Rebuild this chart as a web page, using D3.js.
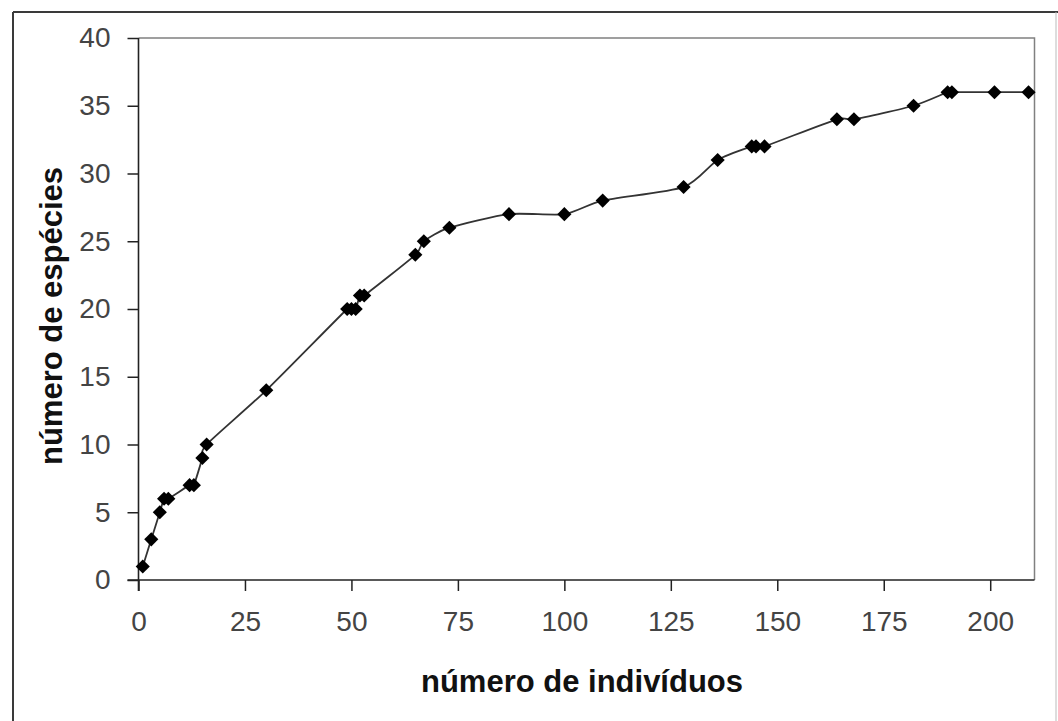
<!DOCTYPE html>
<html>
<head>
<meta charset="utf-8">
<script src="https://cdn.jsdelivr.net/npm/d3@7"></script>
<style>
  body { margin: 0; background: #fff; }
  text { font-family: "Liberation Sans", Arial, sans-serif; }
</style>
</head>
<body>
<div id="chart"></div>
<script>
// dados
var individuos = [1, 3, 5, 6, 7, 12, 13, 15, 16, 30, 49, 50, 51, 52, 53, 65, 67, 73, 87, 100, 109, 128, 136, 144, 145, 147, 164, 168, 182, 190, 191, 201, 209];
var especies   = [1, 3, 5, 6, 6, 7, 7, 9, 10, 14, 20, 20, 20, 21, 21, 24, 25, 26, 27, 27, 28, 29, 31, 32, 32, 32, 34, 34, 35, 36, 36, 36, 36];
var xTicks = [0, 25, 50, 75, 100, 125, 150, 175, 200];
var yTicks = [0, 5, 10, 15, 20, 25, 30, 35, 40];

var W = 1058, H = 721;
var plot = {left: 138.5, right: 1034.5, top: 38, bottom: 580};

var svg = d3.select("#chart")
    .append("svg")
    .attr("width", W)
    .attr("height", H);

svg.append("rect").attr("width", W).attr("height", H).attr("fill", "#fff");

// moldura externa
svg.append("line").attr("x1", 13).attr("x2", W).attr("y1", 12).attr("y2", 12)
    .attr("stroke", "#3a3a3a").attr("stroke-width", 2);
svg.append("line").attr("x1", 13).attr("x2", 13).attr("y1", 12).attr("y2", H)
    .attr("stroke", "#3a3a3a").attr("stroke-width", 2);
svg.append("line").attr("x1", 1056).attr("x2", 1056).attr("y1", 12).attr("y2", H)
    .attr("stroke", "#bbb").attr("stroke-width", 1);

var x = d3.scaleLinear()
    .domain([0, 210.4])
    .range([plot.left, plot.right]);

var y = d3.scaleLinear()
    .domain([0, 40])
    .range([plot.bottom, plot.top]);

// bordas da área de plotagem (topo e direita)
svg.append("path")
    .attr("d", "M" + plot.left + "," + plot.top + "H" + plot.right + "V" + plot.bottom)
    .attr("fill", "none")
    .attr("stroke", "#808080")
    .attr("stroke-width", 1.5);

// eixo X
var gx = svg.append("g")
    .attr("transform", "translate(0," + plot.bottom + ")")
    .call(d3.axisBottom(x).tickValues(xTicks).tickSizeOuter(0).tickSize(11).tickPadding(20));
gx.select(".domain").attr("stroke", "#222").attr("stroke-width", 1.6)
    .attr("d", "M" + (plot.left - 11) + ",0H" + plot.right);
gx.selectAll(".tick line").attr("stroke", "#222").attr("stroke-width", 1.5);
gx.selectAll(".tick text")
    .attr("fill", "#444")
    .style("font-size", "28px");

// eixo Y
var gy = svg.append("g")
    .attr("transform", "translate(" + plot.left + ",0)")
    .call(d3.axisLeft(y).tickValues(yTicks).tickSizeOuter(0).tickSize(11).tickPadding(17));
gy.select(".domain").attr("stroke", "#222").attr("stroke-width", 1.6)
    .attr("d", "M0," + (plot.bottom + 11) + "V" + plot.top);
gy.selectAll(".tick line").attr("stroke", "#222").attr("stroke-width", 1.5);
gy.selectAll(".tick text")
    .attr("fill", "#444")
    .style("font-size", "28px");

// títulos dos eixos
svg.append("text")
    .attr("x", 582)
    .attr("y", 692)
    .attr("text-anchor", "middle")
    .style("font-size", "31px")
    .style("font-weight", "bold")
    .attr("fill", "#111")
    .text("número de indivíduos");

svg.append("text")
    .attr("transform", "translate(62,316)rotate(-90)")
    .attr("text-anchor", "middle")
    .style("font-size", "31px")
    .style("font-weight", "bold")
    .attr("fill", "#111")
    .text("número de espécies");

// curva suavizada
var pontos = individuos.map(function (d, i) { return [d, especies[i]]; });

var linha = d3.line()
    .x(function (d) { return x(d[0]); })
    .y(function (d) { return y(d[1]); })
    .curve(d3.curveCardinal.tension(0.3));

svg.append("path")
    .datum(pontos)
    .attr("d", linha)
    .attr("fill", "none")
    .attr("stroke", "#333")
    .attr("stroke-width", 1.8);

// marcadores losango
svg.selectAll("marcador")
    .data(pontos)
    .enter()
    .append("path")
    .attr("d", d3.symbol().type(d3.symbolSquare).size(100))
    .attr("transform", function (d) {
        return "translate(" + x(d[0]) + "," + y(d[1]) + ")rotate(45)";
    })
    .attr("fill", "#000");
</script>
</body>
</html>
